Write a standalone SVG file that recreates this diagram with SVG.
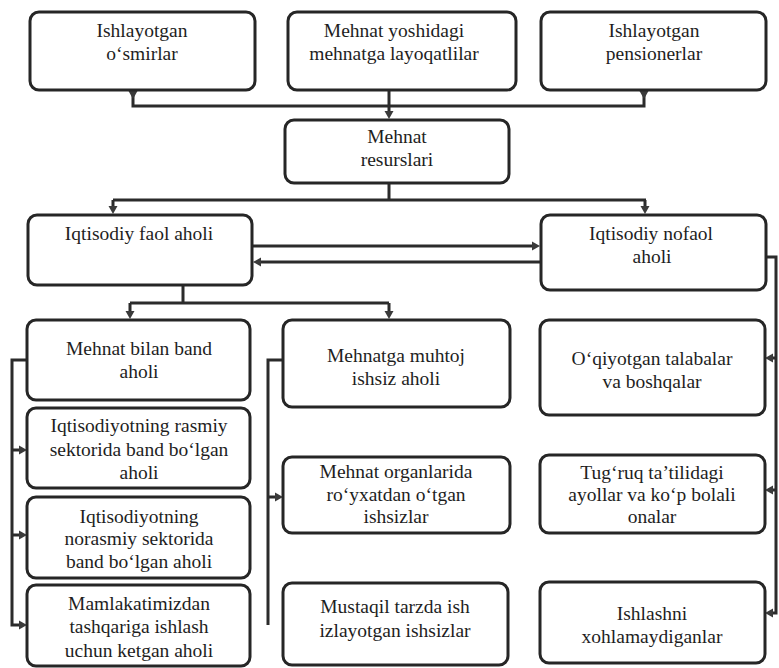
<svg xmlns="http://www.w3.org/2000/svg" xmlns:xlink="http://www.w3.org/1999/xlink" width="779" height="668" viewBox="0 0 779 668">
<style>
.box{fill:#fff;stroke:#262626;stroke-width:3}
.t{font-family:'Liberation Serif','DejaVu Serif',serif;font-size:19.5px;fill:#1e1e1e;text-anchor:middle}
.ln{fill:none;stroke:#2b2b2b;stroke-width:3}
.ah{fill:#3a3a3a}
</style>
<defs>
<polygon id="ad" points="-4.5,0 4.5,0 0,8"/>
<polygon id="ar" points="0,-4.5 0,4.5 8,0"/>
<polygon id="al" points="0,-4.5 0,4.5 -8,0"/>
</defs>
<rect width="779" height="668" fill="#fff"/>
<g id="connectors">
<path class="ln" d="M133,90 V106 H644 V90"/>
<path class="ln" d="M389,90 V112"/>
<path class="ln" d="M389,183 V200 M113,200 H646 M113,200 V206 M645,200 V206"/>
<path class="ln" d="M252,246 H533"/>
<path class="ln" d="M261,262 H541"/>
<path class="ln" d="M183,285 V303 M130,303 H389 M130,303 V312 M389,303 V312"/>
<path class="ln" d="M27,360 H12 V625 H20 M12,450 H20 M12,535 H20"/>
<path class="ln" d="M283,360 H268 V625 M268,497 H276"/>
<path class="ln" d="M766,257 H776 V613 H772 M776,358 H772 M776,490 H772"/>
<g class="ah">
<use xlink:href="#ad" x="133" y="91"/>
<use xlink:href="#ad" x="644" y="91"/>
<use xlink:href="#ad" x="389" y="111"/>
<use xlink:href="#ad" x="113" y="206"/>
<use xlink:href="#ad" x="645" y="206"/>
<use xlink:href="#ar" x="532" y="246"/>
<use xlink:href="#al" x="261" y="262"/>
<use xlink:href="#ad" x="130" y="311"/>
<use xlink:href="#ad" x="389" y="311"/>
<use xlink:href="#ar" x="19" y="450"/>
<use xlink:href="#ar" x="19" y="535"/>
<use xlink:href="#ar" x="19" y="625"/>
<use xlink:href="#ar" x="275" y="497"/>
<use xlink:href="#al" x="773" y="358"/>
<use xlink:href="#al" x="773" y="490"/>
<use xlink:href="#al" x="773" y="613"/>
</g>
</g>
<g font-family="Liberation Serif, serif">
<g id="n1"><rect class="box" x="30" y="12" width="225" height="78" rx="9"/><text class="t" x="142" y="37">Ishlayotgan</text><text class="t" x="142" y="60">o‘smirlar</text></g>
<g id="n2"><rect class="box" x="288" y="12" width="228" height="78" rx="9"/><text class="t" x="394" y="37">Mehnat yoshidagi</text><text class="t" x="394" y="60">mehnatga layoqatlilar</text></g>
<g id="n3"><rect class="box" x="541" y="12" width="225" height="78" rx="9"/><text class="t" x="654" y="37">Ishlayotgan</text><text class="t" x="654" y="60">pensionerlar</text></g>
<g id="n4"><rect class="box" x="285" y="120" width="224" height="63" rx="9"/><text class="t" x="397" y="143">Mehnat</text><text class="t" x="397" y="166">resurslari</text></g>
<g id="n5"><rect class="box" x="28" y="215" width="224" height="70" rx="9"/><text class="t" x="139" y="240">Iqtisodiy faol aholi</text></g>
<g id="n6"><rect class="box" x="541" y="215" width="225" height="75" rx="9"/><text class="t" x="651" y="240">Iqtisodiy nofaol</text><text class="t" x="652" y="263">aholi</text></g>
<g id="n7"><rect class="box" x="27" y="320" width="223" height="80" rx="9"/><text class="t" x="139" y="355">Mehnat bilan band</text><text class="t" x="139" y="378">aholi</text></g>
<g id="n8"><rect class="box" x="27" y="408" width="223" height="80" rx="9"/><text class="t" x="139" y="432">Iqtisodiyotning rasmiy</text><text class="t" x="139" y="456">sektorida band bo‘lgan</text><text class="t" x="139" y="479">aholi</text></g>
<g id="n9"><rect class="box" x="27" y="497" width="223" height="81" rx="9"/><text class="t" x="139" y="523">Iqtisodiyotning</text><text class="t" x="139" y="545">norasmiy sektorida</text><text class="t" x="139" y="568">band bo‘lgan aholi</text></g>
<g id="n10"><rect class="box" x="27" y="585" width="223" height="81" rx="9"/><text class="t" x="139" y="610">Mamlakatimizdan</text><text class="t" x="139" y="633">tashqariga ishlash</text><text class="t" x="139" y="657">uchun ketgan aholi</text></g>
<g id="n11"><rect class="box" x="283" y="320" width="227" height="87" rx="9"/><text class="t" x="396" y="362">Mehnatga muhtoj</text><text class="t" x="396" y="385">ishsiz aholi</text></g>
<g id="n12"><rect class="box" x="283" y="457" width="227" height="76" rx="9"/><text class="t" x="396" y="478">Mehnat organlarida</text><text class="t" x="396" y="501">ro‘yxatdan o‘tgan</text><text class="t" x="396" y="523">ishsizlar</text></g>
<g id="n13"><rect class="box" x="283" y="583" width="225" height="82" rx="9"/><text class="t" x="395" y="613">Mustaqil tarzda ish</text><text class="t" x="395" y="637">izlayotgan ishsizlar</text></g>
<g id="n14"><rect class="box" x="540" y="320" width="225" height="95" rx="9"/><text class="t" x="652" y="365">O‘qiyotgan talabalar</text><text class="t" x="652" y="388">va boshqalar</text></g>
<g id="n15"><rect class="box" x="540" y="455" width="225" height="78" rx="9"/><text class="t" x="652" y="479">Tug‘ruq ta’tilidagi</text><text class="t" x="652" y="501">ayollar va ko‘p bolali</text><text class="t" x="652" y="523">onalar</text></g>
<g id="n16"><rect class="box" x="540" y="582" width="225" height="81" rx="9"/><text class="t" x="652" y="620">Ishlashni</text><text class="t" x="652" y="643">xohlamaydiganlar</text></g>
</g>
</svg>
